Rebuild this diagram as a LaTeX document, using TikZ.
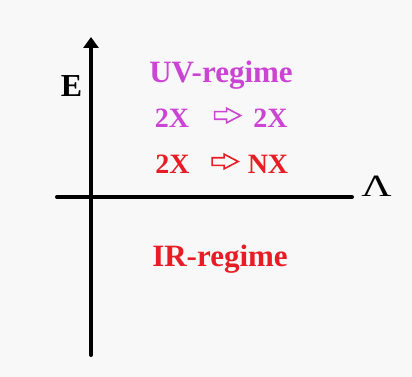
\documentclass[tikz,border=0pt]{standalone}
\usepackage{fontspec}
\setmainfont{Liberation Serif}
\usepackage{xcolor}
\usetikzlibrary{shapes.arrows, arrows.meta}

\definecolor{uvcol}{RGB}{204,68,212}
\definecolor{ircol}{RGB}{232,28,36}
\definecolor{bgcol}{RGB}{248,248,248}

\begin{document}
\begin{tikzpicture}[x=1pt, y=-1pt]
        % Styles
        \tikzstyle{axis} = [line width=4pt, line cap=round]
        \tikzstyle{lbl} = [inner sep=0pt, anchor=base, font=\fontsize{28}{30}\selectfont\bfseries]
        \tikzstyle{big} = [inner sep=0pt, anchor=base, font=\fontsize{31}{33}\selectfont\bfseries]
        \tikzstyle{hollow} = [single arrow, draw, line width=1.6pt, inner sep=3pt, minimum height=26pt, minimum width=13pt, single arrow head extend=3.5pt, single arrow tip angle=55]

        % Background
        \fill[bgcol] (0,0) rectangle (412,377);
        \useasboundingbox (0,0) rectangle (412,377);

        % Axes
        \coordinate (ybot) at (91,355);
        \coordinate (ytop) at (91,37);
        \coordinate (xleft) at (57,197);
        \coordinate (xright) at (352,197);
        \draw[axis, -{Triangle[width=15pt,length=11pt]}] (ybot) -- (ytop);
        \draw[axis] (xleft) -- (xright);

        % Nodes
        \node [lbl, font=\fontsize{31}{33}\selectfont, xscale=1.35] (lambda) at (376.5,196) {Λ};
        \node [lbl, font=\fontsize{32}{34}\selectfont\bfseries] (energy) at (71.5,97) {E};
        \node [big, text=uvcol] (uv) at (221,83) {UV-regime};
        \node [lbl, text=uvcol] (uvleft) at (172,128) {2X};
        \node [hollow, draw=uvcol] (uvarrow) at (224,115.5) {};
        \node [lbl, text=uvcol] (uvright) at (270.5,128) {2X};
        \node [lbl, text=ircol] (irleft) at (172.5,173) {2X};
        \node [hollow, draw=ircol] (irarrow) at (221.5,161.5) {};
        \node [lbl, text=ircol] (irright) at (268,173) {NX};
        \node [big, text=ircol] (ir) at (220,266) {IR-regime};
\end{tikzpicture}
\end{document}
